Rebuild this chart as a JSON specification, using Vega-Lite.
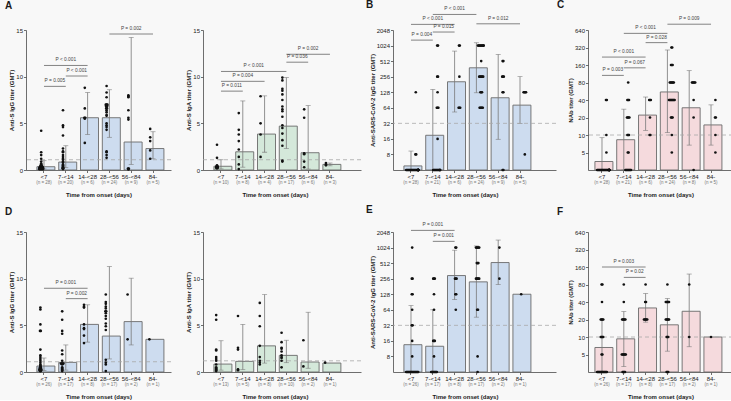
{
"$schema": "https://vega.github.io/schema/vega-lite/v6.json",
"background": "#f8f8f8",
"padding": {"left": 5, "top": 0, "right": 0, "bottom": 0},
"datasets": {
"bars": [
{"panel":"A1","grp":"<7","gmt":0.35,"lo":0.12,"hi":1.0,"nlab":"(n = 28)"},
{"panel":"A1","grp":"7-<14","gmt":0.85,"lo":0.25,"hi":2.6,"nlab":"(n = 20)"},
{"panel":"A1","grp":"14-<28","gmt":5.6,"lo":3.8,"hi":8.3,"nlab":"(n = 6)"},
{"panel":"A1","grp":"28-<56","gmt":5.6,"lo":3.5,"hi":8.6,"nlab":"(n = 24)"},
{"panel":"A1","grp":"56-<84","gmt":3.0,"lo":0.6,"hi":14.2,"nlab":"(n = 9)"},
{"panel":"A1","grp":"84-","gmt":2.3,"lo":1.2,"hi":4.1,"nlab":"(n = 5)"},
{"panel":"A2","grp":"<7","gmt":0.4,"lo":0.12,"hi":1.1,"nlab":"(n = 10)"},
{"panel":"A2","grp":"7-<14","gmt":1.95,"lo":0.3,"hi":7.4,"nlab":"(n = 8)"},
{"panel":"A2","grp":"14-<28","gmt":3.85,"lo":1.9,"hi":7.95,"nlab":"(n = 4)"},
{"panel":"A2","grp":"28-<56","gmt":4.7,"lo":2.3,"hi":9.9,"nlab":"(n = 17)"},
{"panel":"A2","grp":"56-<84","gmt":1.85,"lo":0.1,"hi":6.9,"nlab":"(n = 6)"},
{"panel":"A2","grp":"84-","gmt":0.6,"lo":0.45,"hi":0.75,"nlab":"(n = 3)"},
{"panel":"B","grp":"<7","gmt":4.8,"lo":4,"hi":9.3,"nlab":"(n = 28)"},
{"panel":"B","grp":"7-<14","gmt":18.8,"lo":4,"hi":145,"nlab":"(n = 21)"},
{"panel":"B","grp":"14-<28","gmt":204,"lo":53,"hi":800,"nlab":"(n = 6)"},
{"panel":"B","grp":"28-<56","gmt":380,"lo":125,"hi":1160,"nlab":"(n = 24)"},
{"panel":"B","grp":"56-<84","gmt":100,"lo":15.7,"hi":690,"nlab":"(n = 9)"},
{"panel":"B","grp":"84-","gmt":72,"lo":32,"hi":256,"nlab":"(n = 5)"},
{"panel":"C","grp":"<7","gmt":3.5,"lo":2.5,"hi":9,"nlab":"(n = 28)"},
{"panel":"C","grp":"7-<14","gmt":8.3,"lo":2.5,"hi":27.8,"nlab":"(n = 21)"},
{"panel":"C","grp":"14-<28","gmt":22,"lo":12,"hi":45,"nlab":"(n = 6)"},
{"panel":"C","grp":"28-<56","gmt":55,"lo":11,"hi":290,"nlab":"(n = 24)"},
{"panel":"C","grp":"56-<84","gmt":29.4,"lo":6.7,"hi":128,"nlab":"(n = 8)"},
{"panel":"C","grp":"84-","gmt":14.9,"lo":6.7,"hi":33,"nlab":"(n = 5)"},
{"panel":"D1","grp":"<7","gmt":0.64,"lo":0.15,"hi":1.5,"nlab":"(n = 26)"},
{"panel":"D1","grp":"7-<14","gmt":1.03,"lo":0.2,"hi":2.9,"nlab":"(n = 17)"},
{"panel":"D1","grp":"14-<28","gmt":5.1,"lo":3.2,"hi":7.2,"nlab":"(n = 8)"},
{"panel":"D1","grp":"28-<56","gmt":3.85,"lo":1.4,"hi":11.3,"nlab":"(n = 17)"},
{"panel":"D1","grp":"56-<84","gmt":5.4,"lo":2.9,"hi":10.05,"nlab":"(n = 2)"},
{"panel":"D1","grp":"84-","gmt":3.5,"lo":null,"hi":null,"nlab":"(n = 1)"},
{"panel":"D2","grp":"<7","gmt":0.85,"lo":0.2,"hi":3.35,"nlab":"(n = 13)"},
{"panel":"D2","grp":"7-<14","gmt":1.14,"lo":0.25,"hi":5.1,"nlab":"(n = 5)"},
{"panel":"D2","grp":"14-<28","gmt":2.8,"lo":0.96,"hi":8.3,"nlab":"(n = 8)"},
{"panel":"D2","grp":"28-<56","gmt":1.78,"lo":1.0,"hi":3.4,"nlab":"(n = 10)"},
{"panel":"D2","grp":"56-<84","gmt":1.07,"lo":0.4,"hi":6.4,"nlab":"(n = 2)"},
{"panel":"D2","grp":"84-","gmt":0.96,"lo":null,"hi":null,"nlab":"(n = 1)"},
{"panel":"E","grp":"<7","gmt":13.5,"lo":4,"hi":77,"nlab":"(n = 26)"},
{"panel":"E","grp":"7-<14","gmt":12.6,"lo":4,"hi":64,"nlab":"(n = 17)"},
{"panel":"E","grp":"14-<28","gmt":294,"lo":101,"hi":910,"nlab":"(n = 8)"},
{"panel":"E","grp":"28-<56","gmt":222,"lo":46,"hi":1100,"nlab":"(n = 17)"},
{"panel":"E","grp":"56-<84","gmt":525,"lo":197,"hi":1430,"nlab":"(n = 2)"},
{"panel":"E","grp":"84-","gmt":128,"lo":null,"hi":null,"nlab":"(n = 1)"},
{"panel":"F","grp":"<7","gmt":6.6,"lo":2.5,"hi":19.7,"nlab":"(n = 26)"},
{"panel":"F","grp":"7-<14","gmt":9.3,"lo":3.1,"hi":27.4,"nlab":"(n = 17)"},
{"panel":"F","grp":"14-<28","gmt":31.6,"lo":18,"hi":56,"nlab":"(n = 8)"},
{"panel":"F","grp":"28-<56","gmt":16.2,"lo":5.7,"hi":46,"nlab":"(n = 17)"},
{"panel":"F","grp":"56-<84","gmt":27.7,"lo":6.8,"hi":121,"nlab":"(n = 2)"},
{"panel":"F","grp":"84-","gmt":10,"lo":null,"hi":null,"nlab":"(n = 1)"}
],
"thr": [
{"panel":"A1","t":1.1},{"panel":"A2","t":1.1},{"panel":"B","t":32},{"panel":"C","t":10},
{"panel":"D1","t":1.1},{"panel":"D2","t":1.2},{"panel":"E","t":32},{"panel":"F","t":10}
],
"brk": [
{"panel":"A1","grp":"<7","grp2":"7-<14","lvl":8.96,"lab":"P = 0.005","mid":"<7","half":true},
{"panel":"A1","grp":"7-<14","grp2":"14-<28","lvl":10.07,"lab":"P < 0.001","mid":"7-<14","half":true},
{"panel":"A1","grp":"<7","grp2":"14-<28","lvl":11.2,"lab":"P < 0.001","mid":"7-<14","half":false},
{"panel":"A1","grp":"28-<56","grp2":"84-","lvl":14.57,"lab":"P = 0.002","mid":"56-<84","half":false},
{"panel":"A2","grp":"<7","grp2":"7-<14","lvl":8.45,"lab":"P = 0.011","mid":"<7","half":true},
{"panel":"A2","grp":"<7","grp2":"14-<28","lvl":9.5,"lab":"P = 0.004","mid":"7-<14","half":false},
{"panel":"A2","grp":"<7","grp2":"28-<56","lvl":10.56,"lab":"P < 0.001","mid":"7-<14","half":true},
{"panel":"A2","grp":"28-<56","grp2":"56-<84","lvl":11.55,"lab":"P = 0.036","mid":"28-<56","half":true},
{"panel":"A2","grp":"28-<56","grp2":"84-","lvl":12.4,"lab":"P = 0.002","mid":"56-<84","half":false},
{"panel":"B","grp":"<7","grp2":"7-<14","lvl":1305,"lab":"P = 0.004","mid":"<7","half":true},
{"panel":"B","grp":"7-<14","grp2":"14-<28","lvl":1870,"lab":"P = 0.015","mid":"7-<14","half":true},
{"panel":"B","grp":"<7","grp2":"14-<28","lvl":2630,"lab":"P < 0.001","mid":"7-<14","half":false},
{"panel":"B","grp":"7-<14","grp2":"28-<56","lvl":4096,"lab":"P < 0.001","mid":"14-<28","half":false},
{"panel":"B","grp":"28-<56","grp2":"84-","lvl":2700,"lab":"P = 0.012","mid":"56-<84","half":false},
{"panel":"C","grp":"<7","grp2":"7-<14","lvl":106,"lab":"P = 0.003","mid":"<7","half":true},
{"panel":"C","grp":"7-<14","grp2":"14-<28","lvl":143,"lab":"P = 0.067","mid":"7-<14","half":true},
{"panel":"C","grp":"<7","grp2":"14-<28","lvl":219,"lab":"P < 0.001","mid":"7-<14","half":false},
{"panel":"C","grp":"14-<28","grp2":"28-<56","lvl":388,"lab":"P = 0.028","mid":"14-<28","half":true},
{"panel":"C","grp":"7-<14","grp2":"28-<56","lvl":560,"lab":"P < 0.001","mid":"14-<28","half":false},
{"panel":"C","grp":"28-<56","grp2":"84-","lvl":805,"lab":"P = 0.009","mid":"56-<84","half":false},
{"panel":"D1","grp":"<7","grp2":"14-<28","lvl":8.97,"lab":"P = 0.001","mid":"7-<14","half":false},
{"panel":"D1","grp":"7-<14","grp2":"14-<28","lvl":7.86,"lab":"P = 0.002","mid":"7-<14","half":true},
{"panel":"E","grp":"<7","grp2":"14-<28","lvl":2200,"lab":"P = 0.001","mid":"7-<14","half":false},
{"panel":"E","grp":"7-<14","grp2":"14-<28","lvl":1350,"lab":"P = 0.001","mid":"7-<14","half":true},
{"panel":"F","grp":"<7","grp2":"14-<28","lvl":160,"lab":"P = 0.003","mid":"7-<14","half":false},
{"panel":"F","grp":"7-<14","grp2":"14-<28","lvl":106,"lab":"P = 0.02","mid":"7-<14","half":true}
],
"pts": [
{"panel":"A1","grp":"<7","v":4.2},{"panel":"A1","grp":"<7","v":1.9},{"panel":"A1","grp":"<7","v":1.6},{"panel":"A1","grp":"<7","v":1.2},{"panel":"A1","grp":"<7","v":0.9},{"panel":"A1","grp":"<7","v":0.7},{"panel":"A1","grp":"<7","v":0.6},{"panel":"A1","grp":"<7","v":0.5},{"panel":"A1","grp":"<7","v":0.5},{"panel":"A1","grp":"<7","v":0.4},{"panel":"A1","grp":"<7","v":0.4},{"panel":"A1","grp":"<7","v":0.4},{"panel":"A1","grp":"<7","v":0.3},{"panel":"A1","grp":"<7","v":0.3},{"panel":"A1","grp":"<7","v":0.3},{"panel":"A1","grp":"<7","v":0.3},{"panel":"A1","grp":"<7","v":0.3},{"panel":"A1","grp":"<7","v":0.2},{"panel":"A1","grp":"<7","v":0.2},{"panel":"A1","grp":"<7","v":0.2},{"panel":"A1","grp":"<7","v":0.2},{"panel":"A1","grp":"<7","v":0.2},{"panel":"A1","grp":"<7","v":0.1},{"panel":"A1","grp":"<7","v":0.1},{"panel":"A1","grp":"<7","v":0.1},{"panel":"A1","grp":"<7","v":0.1},{"panel":"A1","grp":"<7","v":0.1},{"panel":"A1","grp":"<7","v":0.1},
{"panel":"A1","grp":"7-<14","v":6.4},{"panel":"A1","grp":"7-<14","v":4.8},{"panel":"A1","grp":"7-<14","v":4.6},{"panel":"A1","grp":"7-<14","v":3.7},{"panel":"A1","grp":"7-<14","v":2.3},{"panel":"A1","grp":"7-<14","v":2.0},{"panel":"A1","grp":"7-<14","v":1.9},{"panel":"A1","grp":"7-<14","v":1.6},{"panel":"A1","grp":"7-<14","v":1.4},{"panel":"A1","grp":"7-<14","v":1.2},{"panel":"A1","grp":"7-<14","v":1.1},{"panel":"A1","grp":"7-<14","v":0.9},{"panel":"A1","grp":"7-<14","v":0.8},{"panel":"A1","grp":"7-<14","v":0.6},{"panel":"A1","grp":"7-<14","v":0.5},{"panel":"A1","grp":"7-<14","v":0.4},{"panel":"A1","grp":"7-<14","v":0.3},{"panel":"A1","grp":"7-<14","v":0.2},{"panel":"A1","grp":"7-<14","v":0.2},{"panel":"A1","grp":"7-<14","v":0.1},
{"panel":"A1","grp":"14-<28","v":8.8},{"panel":"A1","grp":"14-<28","v":6.6},{"panel":"A1","grp":"14-<28","v":5.6},{"panel":"A1","grp":"14-<28","v":5.6},{"panel":"A1","grp":"14-<28","v":5.5},{"panel":"A1","grp":"14-<28","v":2.9},
{"panel":"A1","grp":"28-<56","v":9.0},{"panel":"A1","grp":"28-<56","v":8.3},{"panel":"A1","grp":"28-<56","v":7.8},{"panel":"A1","grp":"28-<56","v":7.0},{"panel":"A1","grp":"28-<56","v":7.0},{"panel":"A1","grp":"28-<56","v":7.0},{"panel":"A1","grp":"28-<56","v":6.9},{"panel":"A1","grp":"28-<56","v":6.9},{"panel":"A1","grp":"28-<56","v":6.8},{"panel":"A1","grp":"28-<56","v":6.8},{"panel":"A1","grp":"28-<56","v":6.6},{"panel":"A1","grp":"28-<56","v":6.6},{"panel":"A1","grp":"28-<56","v":6.4},{"panel":"A1","grp":"28-<56","v":6.2},{"panel":"A1","grp":"28-<56","v":5.9},{"panel":"A1","grp":"28-<56","v":5.8},{"panel":"A1","grp":"28-<56","v":5.0},{"panel":"A1","grp":"28-<56","v":4.8},{"panel":"A1","grp":"28-<56","v":4.6},{"panel":"A1","grp":"28-<56","v":4.3},{"panel":"A1","grp":"28-<56","v":2.0},{"panel":"A1","grp":"28-<56","v":1.9},{"panel":"A1","grp":"28-<56","v":1.6},{"panel":"A1","grp":"28-<56","v":1.3},
{"panel":"A1","grp":"56-<84","v":8.0},{"panel":"A1","grp":"56-<84","v":7.9},{"panel":"A1","grp":"56-<84","v":7.8},{"panel":"A1","grp":"56-<84","v":6.4},{"panel":"A1","grp":"56-<84","v":5.6},{"panel":"A1","grp":"56-<84","v":5.4},{"panel":"A1","grp":"56-<84","v":0.15},{"panel":"A1","grp":"56-<84","v":0.15},{"panel":"A1","grp":"56-<84","v":0.05},
{"panel":"A1","grp":"84-","v":4.4},{"panel":"A1","grp":"84-","v":3.5},{"panel":"A1","grp":"84-","v":3.1},{"panel":"A1","grp":"84-","v":2.1},{"panel":"A1","grp":"84-","v":1.2},
{"panel":"A2","grp":"<7","v":2.7},{"panel":"A2","grp":"<7","v":1.3},{"panel":"A2","grp":"<7","v":0.5},{"panel":"A2","grp":"<7","v":0.4},{"panel":"A2","grp":"<7","v":0.4},{"panel":"A2","grp":"<7","v":0.3},{"panel":"A2","grp":"<7","v":0.3},{"panel":"A2","grp":"<7","v":0.3},{"panel":"A2","grp":"<7","v":0.2},{"panel":"A2","grp":"<7","v":0.2},
{"panel":"A2","grp":"7-<14","v":6.1},{"panel":"A2","grp":"7-<14","v":4.3},{"panel":"A2","grp":"7-<14","v":3.8},{"panel":"A2","grp":"7-<14","v":3.1},{"panel":"A2","grp":"7-<14","v":2.2},{"panel":"A2","grp":"7-<14","v":1.4},{"panel":"A2","grp":"7-<14","v":0.6},{"panel":"A2","grp":"7-<14","v":0.1},
{"panel":"A2","grp":"14-<28","v":7.9},{"panel":"A2","grp":"14-<28","v":5.0},{"panel":"A2","grp":"14-<28","v":3.8},{"panel":"A2","grp":"14-<28","v":1.4},
{"panel":"A2","grp":"28-<56","v":9.9},{"panel":"A2","grp":"28-<56","v":9.6},{"panel":"A2","grp":"28-<56","v":8.7},{"panel":"A2","grp":"28-<56","v":8.5},{"panel":"A2","grp":"28-<56","v":8.1},{"panel":"A2","grp":"28-<56","v":7.5},{"panel":"A2","grp":"28-<56","v":6.8},{"panel":"A2","grp":"28-<56","v":6.5},{"panel":"A2","grp":"28-<56","v":6.3},{"panel":"A2","grp":"28-<56","v":5.7},{"panel":"A2","grp":"28-<56","v":4.8},{"panel":"A2","grp":"28-<56","v":4.5},{"panel":"A2","grp":"28-<56","v":3.9},{"panel":"A2","grp":"28-<56","v":3.2},{"panel":"A2","grp":"28-<56","v":2.6},{"panel":"A2","grp":"28-<56","v":1.0},{"panel":"A2","grp":"28-<56","v":0.9},
{"panel":"A2","grp":"56-<84","v":6.5},{"panel":"A2","grp":"56-<84","v":5.6},{"panel":"A2","grp":"56-<84","v":1.8},{"panel":"A2","grp":"56-<84","v":1.7},{"panel":"A2","grp":"56-<84","v":0.9},{"panel":"A2","grp":"56-<84","v":0.3},
{"panel":"A2","grp":"84-","v":0.75},{"panel":"A2","grp":"84-","v":0.6},{"panel":"A2","grp":"84-","v":0.5},
{"panel":"B","grp":"<7","v":128},{"panel":"B","grp":"<7","v":8},{"panel":"B","grp":"<7","v":8},{"panel":"B","grp":"<7","v":4},{"panel":"B","grp":"<7","v":4},{"panel":"B","grp":"<7","v":4},{"panel":"B","grp":"<7","v":4},{"panel":"B","grp":"<7","v":4},{"panel":"B","grp":"<7","v":4},{"panel":"B","grp":"<7","v":4},{"panel":"B","grp":"<7","v":4},{"panel":"B","grp":"<7","v":4},{"panel":"B","grp":"<7","v":4},{"panel":"B","grp":"<7","v":4},{"panel":"B","grp":"<7","v":4},{"panel":"B","grp":"<7","v":4},{"panel":"B","grp":"<7","v":4},{"panel":"B","grp":"<7","v":4},{"panel":"B","grp":"<7","v":4},{"panel":"B","grp":"<7","v":4},{"panel":"B","grp":"<7","v":4},{"panel":"B","grp":"<7","v":4},{"panel":"B","grp":"<7","v":4},{"panel":"B","grp":"<7","v":4},{"panel":"B","grp":"<7","v":4},{"panel":"B","grp":"<7","v":4},{"panel":"B","grp":"<7","v":4},{"panel":"B","grp":"<7","v":4},
{"panel":"B","grp":"7-<14","v":1024},{"panel":"B","grp":"7-<14","v":1024},{"panel":"B","grp":"7-<14","v":256},{"panel":"B","grp":"7-<14","v":256},{"panel":"B","grp":"7-<14","v":128},{"panel":"B","grp":"7-<14","v":64},{"panel":"B","grp":"7-<14","v":64},{"panel":"B","grp":"7-<14","v":64},{"panel":"B","grp":"7-<14","v":16},{"panel":"B","grp":"7-<14","v":4},{"panel":"B","grp":"7-<14","v":4},{"panel":"B","grp":"7-<14","v":4},{"panel":"B","grp":"7-<14","v":4},{"panel":"B","grp":"7-<14","v":4},{"panel":"B","grp":"7-<14","v":4},{"panel":"B","grp":"7-<14","v":4},{"panel":"B","grp":"7-<14","v":4},{"panel":"B","grp":"7-<14","v":4},{"panel":"B","grp":"7-<14","v":4},{"panel":"B","grp":"7-<14","v":4},{"panel":"B","grp":"7-<14","v":4},
{"panel":"B","grp":"14-<28","v":1024},{"panel":"B","grp":"14-<28","v":1024},{"panel":"B","grp":"14-<28","v":256},{"panel":"B","grp":"14-<28","v":64},{"panel":"B","grp":"14-<28","v":64},{"panel":"B","grp":"14-<28","v":64},
{"panel":"B","grp":"28-<56","v":1024},{"panel":"B","grp":"28-<56","v":1024},{"panel":"B","grp":"28-<56","v":1024},{"panel":"B","grp":"28-<56","v":1024},{"panel":"B","grp":"28-<56","v":1024},{"panel":"B","grp":"28-<56","v":1024},{"panel":"B","grp":"28-<56","v":1024},{"panel":"B","grp":"28-<56","v":1024},{"panel":"B","grp":"28-<56","v":1024},{"panel":"B","grp":"28-<56","v":512},{"panel":"B","grp":"28-<56","v":256},{"panel":"B","grp":"28-<56","v":256},{"panel":"B","grp":"28-<56","v":256},{"panel":"B","grp":"28-<56","v":256},{"panel":"B","grp":"28-<56","v":256},{"panel":"B","grp":"28-<56","v":256},{"panel":"B","grp":"28-<56","v":128},{"panel":"B","grp":"28-<56","v":128},{"panel":"B","grp":"28-<56","v":128},{"panel":"B","grp":"28-<56","v":64},{"panel":"B","grp":"28-<56","v":64},{"panel":"B","grp":"28-<56","v":64},{"panel":"B","grp":"28-<56","v":64},{"panel":"B","grp":"28-<56","v":64},
{"panel":"B","grp":"56-<84","v":512},{"panel":"B","grp":"56-<84","v":512},{"panel":"B","grp":"56-<84","v":256},{"panel":"B","grp":"56-<84","v":256},{"panel":"B","grp":"56-<84","v":256},{"panel":"B","grp":"56-<84","v":128},{"panel":"B","grp":"56-<84","v":128},{"panel":"B","grp":"56-<84","v":4},{"panel":"B","grp":"56-<84","v":4},
{"panel":"B","grp":"84-","v":128},{"panel":"B","grp":"84-","v":128},{"panel":"B","grp":"84-","v":128},{"panel":"B","grp":"84-","v":128},{"panel":"B","grp":"84-","v":8},
{"panel":"C","grp":"<7","v":40},{"panel":"C","grp":"<7","v":40},{"panel":"C","grp":"<7","v":10},{"panel":"C","grp":"<7","v":5},{"panel":"C","grp":"<7","v":2.5},{"panel":"C","grp":"<7","v":2.5},{"panel":"C","grp":"<7","v":2.5},{"panel":"C","grp":"<7","v":2.5},{"panel":"C","grp":"<7","v":2.5},{"panel":"C","grp":"<7","v":2.5},{"panel":"C","grp":"<7","v":2.5},{"panel":"C","grp":"<7","v":2.5},{"panel":"C","grp":"<7","v":2.5},{"panel":"C","grp":"<7","v":2.5},{"panel":"C","grp":"<7","v":2.5},{"panel":"C","grp":"<7","v":2.5},{"panel":"C","grp":"<7","v":2.5},{"panel":"C","grp":"<7","v":2.5},{"panel":"C","grp":"<7","v":2.5},{"panel":"C","grp":"<7","v":2.5},{"panel":"C","grp":"<7","v":2.5},{"panel":"C","grp":"<7","v":2.5},{"panel":"C","grp":"<7","v":2.5},{"panel":"C","grp":"<7","v":2.5},{"panel":"C","grp":"<7","v":2.5},{"panel":"C","grp":"<7","v":2.5},{"panel":"C","grp":"<7","v":2.5},{"panel":"C","grp":"<7","v":2.5},
{"panel":"C","grp":"7-<14","v":80},{"panel":"C","grp":"7-<14","v":40},{"panel":"C","grp":"7-<14","v":40},{"panel":"C","grp":"7-<14","v":40},{"panel":"C","grp":"7-<14","v":20},{"panel":"C","grp":"7-<14","v":20},{"panel":"C","grp":"7-<14","v":20},{"panel":"C","grp":"7-<14","v":20},{"panel":"C","grp":"7-<14","v":10},{"panel":"C","grp":"7-<14","v":10},{"panel":"C","grp":"7-<14","v":10},{"panel":"C","grp":"7-<14","v":5},{"panel":"C","grp":"7-<14","v":5},{"panel":"C","grp":"7-<14","v":2.5},{"panel":"C","grp":"7-<14","v":2.5},{"panel":"C","grp":"7-<14","v":2.5},{"panel":"C","grp":"7-<14","v":2.5},{"panel":"C","grp":"7-<14","v":2.5},{"panel":"C","grp":"7-<14","v":2.5},{"panel":"C","grp":"7-<14","v":2.5},{"panel":"C","grp":"7-<14","v":2.5},
{"panel":"C","grp":"14-<28","v":40},{"panel":"C","grp":"14-<28","v":40},{"panel":"C","grp":"14-<28","v":40},{"panel":"C","grp":"14-<28","v":20},{"panel":"C","grp":"14-<28","v":10},{"panel":"C","grp":"14-<28","v":10},
{"panel":"C","grp":"28-<56","v":320},{"panel":"C","grp":"28-<56","v":320},{"panel":"C","grp":"28-<56","v":160},{"panel":"C","grp":"28-<56","v":160},{"panel":"C","grp":"28-<56","v":160},{"panel":"C","grp":"28-<56","v":80},{"panel":"C","grp":"28-<56","v":80},{"panel":"C","grp":"28-<56","v":80},{"panel":"C","grp":"28-<56","v":80},{"panel":"C","grp":"28-<56","v":80},{"panel":"C","grp":"28-<56","v":80},{"panel":"C","grp":"28-<56","v":40},{"panel":"C","grp":"28-<56","v":40},{"panel":"C","grp":"28-<56","v":40},{"panel":"C","grp":"28-<56","v":40},{"panel":"C","grp":"28-<56","v":40},{"panel":"C","grp":"28-<56","v":40},{"panel":"C","grp":"28-<56","v":40},{"panel":"C","grp":"28-<56","v":40},{"panel":"C","grp":"28-<56","v":20},{"panel":"C","grp":"28-<56","v":20},{"panel":"C","grp":"28-<56","v":20},{"panel":"C","grp":"28-<56","v":10},{"panel":"C","grp":"28-<56","v":5},
{"panel":"C","grp":"56-<84","v":80},{"panel":"C","grp":"56-<84","v":80},{"panel":"C","grp":"56-<84","v":80},{"panel":"C","grp":"56-<84","v":80},{"panel":"C","grp":"56-<84","v":80},{"panel":"C","grp":"56-<84","v":40},{"panel":"C","grp":"56-<84","v":20},{"panel":"C","grp":"56-<84","v":2.5},
{"panel":"C","grp":"84-","v":40},{"panel":"C","grp":"84-","v":20},{"panel":"C","grp":"84-","v":20},{"panel":"C","grp":"84-","v":10},{"panel":"C","grp":"84-","v":5},
{"panel":"D1","grp":"<7","v":6.9},{"panel":"D1","grp":"<7","v":6.7},{"panel":"D1","grp":"<7","v":5.1},{"panel":"D1","grp":"<7","v":4.4},{"panel":"D1","grp":"<7","v":4.4},{"panel":"D1","grp":"<7","v":2.4},{"panel":"D1","grp":"<7","v":1.8},{"panel":"D1","grp":"<7","v":1.6},{"panel":"D1","grp":"<7","v":1.4},{"panel":"D1","grp":"<7","v":1.2},{"panel":"D1","grp":"<7","v":1.0},{"panel":"D1","grp":"<7","v":0.8},{"panel":"D1","grp":"<7","v":0.7},{"panel":"D1","grp":"<7","v":0.6},{"panel":"D1","grp":"<7","v":0.5},{"panel":"D1","grp":"<7","v":0.5},{"panel":"D1","grp":"<7","v":0.4},{"panel":"D1","grp":"<7","v":0.4},{"panel":"D1","grp":"<7","v":0.3},{"panel":"D1","grp":"<7","v":0.3},{"panel":"D1","grp":"<7","v":0.3},{"panel":"D1","grp":"<7","v":0.2},{"panel":"D1","grp":"<7","v":0.2},{"panel":"D1","grp":"<7","v":0.2},{"panel":"D1","grp":"<7","v":0.1},{"panel":"D1","grp":"<7","v":0.1},
{"panel":"D1","grp":"7-<14","v":6.5},{"panel":"D1","grp":"7-<14","v":5.6},{"panel":"D1","grp":"7-<14","v":4.4},{"panel":"D1","grp":"7-<14","v":4.1},{"panel":"D1","grp":"7-<14","v":2.3},{"panel":"D1","grp":"7-<14","v":1.9},{"panel":"D1","grp":"7-<14","v":1.2},{"panel":"D1","grp":"7-<14","v":0.9},{"panel":"D1","grp":"7-<14","v":0.9},{"panel":"D1","grp":"7-<14","v":0.9},{"panel":"D1","grp":"7-<14","v":0.9},{"panel":"D1","grp":"7-<14","v":0.8},{"panel":"D1","grp":"7-<14","v":0.5},{"panel":"D1","grp":"7-<14","v":0.4},{"panel":"D1","grp":"7-<14","v":0.3},{"panel":"D1","grp":"7-<14","v":0.2},{"panel":"D1","grp":"7-<14","v":0.1},
{"panel":"D1","grp":"14-<28","v":7.2},{"panel":"D1","grp":"14-<28","v":7.0},{"panel":"D1","grp":"14-<28","v":6.9},{"panel":"D1","grp":"14-<28","v":5.1},{"panel":"D1","grp":"14-<28","v":4.7},{"panel":"D1","grp":"14-<28","v":4.6},{"panel":"D1","grp":"14-<28","v":3.9},{"panel":"D1","grp":"14-<28","v":3.1},
{"panel":"D1","grp":"28-<56","v":8.3},{"panel":"D1","grp":"28-<56","v":7.5},{"panel":"D1","grp":"28-<56","v":7.3},{"panel":"D1","grp":"28-<56","v":7.0},{"panel":"D1","grp":"28-<56","v":6.8},{"panel":"D1","grp":"28-<56","v":6.5},{"panel":"D1","grp":"28-<56","v":6.5},{"panel":"D1","grp":"28-<56","v":6.3},{"panel":"D1","grp":"28-<56","v":6.0},{"panel":"D1","grp":"28-<56","v":5.7},{"panel":"D1","grp":"28-<56","v":5.2},{"panel":"D1","grp":"28-<56","v":4.9},{"panel":"D1","grp":"28-<56","v":4.5},{"panel":"D1","grp":"28-<56","v":1.3},{"panel":"D1","grp":"28-<56","v":1.0},{"panel":"D1","grp":"28-<56","v":0.8},{"panel":"D1","grp":"28-<56","v":0.1},
{"panel":"D1","grp":"56-<84","v":8.3},{"panel":"D1","grp":"56-<84","v":3.5},
{"panel":"D1","grp":"84-","v":3.5},
{"panel":"D2","grp":"<7","v":6.1},{"panel":"D2","grp":"<7","v":5.6},{"panel":"D2","grp":"<7","v":2.4},{"panel":"D2","grp":"<7","v":2.3},{"panel":"D2","grp":"<7","v":1.6},{"panel":"D2","grp":"<7","v":1.4},{"panel":"D2","grp":"<7","v":1.2},{"panel":"D2","grp":"<7","v":0.8},{"panel":"D2","grp":"<7","v":0.5},{"panel":"D2","grp":"<7","v":0.4},{"panel":"D2","grp":"<7","v":0.3},{"panel":"D2","grp":"<7","v":0.2},{"panel":"D2","grp":"<7","v":0.1},
{"panel":"D2","grp":"7-<14","v":6.0},{"panel":"D2","grp":"7-<14","v":2.6},{"panel":"D2","grp":"7-<14","v":2.4},{"panel":"D2","grp":"7-<14","v":0.3},{"panel":"D2","grp":"7-<14","v":0.2},
{"panel":"D2","grp":"14-<28","v":7.4},{"panel":"D2","grp":"14-<28","v":6.0},{"panel":"D2","grp":"14-<28","v":4.9},{"panel":"D2","grp":"14-<28","v":2.8},{"panel":"D2","grp":"14-<28","v":1.6},{"panel":"D2","grp":"14-<28","v":1.2},{"panel":"D2","grp":"14-<28","v":1.0},{"panel":"D2","grp":"14-<28","v":0.8},
{"panel":"D2","grp":"28-<56","v":4.2},{"panel":"D2","grp":"28-<56","v":3.2},{"panel":"D2","grp":"28-<56","v":2.6},{"panel":"D2","grp":"28-<56","v":2.5},{"panel":"D2","grp":"28-<56","v":2.2},{"panel":"D2","grp":"28-<56","v":1.8},{"panel":"D2","grp":"28-<56","v":1.6},{"panel":"D2","grp":"28-<56","v":1.5},{"panel":"D2","grp":"28-<56","v":1.2},{"panel":"D2","grp":"28-<56","v":0.5},
{"panel":"D2","grp":"56-<84","v":3.4},{"panel":"D2","grp":"56-<84","v":0.6},
{"panel":"D2","grp":"84-","v":1.0},
{"panel":"E","grp":"<7","v":1024},{"panel":"E","grp":"<7","v":256},{"panel":"E","grp":"<7","v":256},{"panel":"E","grp":"<7","v":128},{"panel":"E","grp":"<7","v":128},{"panel":"E","grp":"<7","v":64},{"panel":"E","grp":"<7","v":32},{"panel":"E","grp":"<7","v":32},{"panel":"E","grp":"<7","v":16},{"panel":"E","grp":"<7","v":8},{"panel":"E","grp":"<7","v":4},{"panel":"E","grp":"<7","v":4},{"panel":"E","grp":"<7","v":4},{"panel":"E","grp":"<7","v":4},{"panel":"E","grp":"<7","v":4},{"panel":"E","grp":"<7","v":4},{"panel":"E","grp":"<7","v":4},{"panel":"E","grp":"<7","v":4},{"panel":"E","grp":"<7","v":4},{"panel":"E","grp":"<7","v":4},{"panel":"E","grp":"<7","v":4},{"panel":"E","grp":"<7","v":4},{"panel":"E","grp":"<7","v":4},{"panel":"E","grp":"<7","v":4},{"panel":"E","grp":"<7","v":4},{"panel":"E","grp":"<7","v":4},
{"panel":"E","grp":"7-<14","v":256},{"panel":"E","grp":"7-<14","v":256},{"panel":"E","grp":"7-<14","v":256},{"panel":"E","grp":"7-<14","v":128},{"panel":"E","grp":"7-<14","v":64},{"panel":"E","grp":"7-<14","v":16},{"panel":"E","grp":"7-<14","v":16},{"panel":"E","grp":"7-<14","v":16},{"panel":"E","grp":"7-<14","v":8},{"panel":"E","grp":"7-<14","v":4},{"panel":"E","grp":"7-<14","v":4},{"panel":"E","grp":"7-<14","v":4},{"panel":"E","grp":"7-<14","v":4},{"panel":"E","grp":"7-<14","v":4},{"panel":"E","grp":"7-<14","v":4},{"panel":"E","grp":"7-<14","v":4},{"panel":"E","grp":"7-<14","v":4},
{"panel":"E","grp":"14-<28","v":1024},{"panel":"E","grp":"14-<28","v":1024},{"panel":"E","grp":"14-<28","v":256},{"panel":"E","grp":"14-<28","v":256},{"panel":"E","grp":"14-<28","v":256},{"panel":"E","grp":"14-<28","v":128},{"panel":"E","grp":"14-<28","v":128},{"panel":"E","grp":"14-<28","v":64},
{"panel":"E","grp":"28-<56","v":1024},{"panel":"E","grp":"28-<56","v":1024},{"panel":"E","grp":"28-<56","v":1024},{"panel":"E","grp":"28-<56","v":1024},{"panel":"E","grp":"28-<56","v":1024},{"panel":"E","grp":"28-<56","v":512},{"panel":"E","grp":"28-<56","v":512},{"panel":"E","grp":"28-<56","v":512},{"panel":"E","grp":"28-<56","v":256},{"panel":"E","grp":"28-<56","v":256},{"panel":"E","grp":"28-<56","v":256},{"panel":"E","grp":"28-<56","v":256},{"panel":"E","grp":"28-<56","v":256},{"panel":"E","grp":"28-<56","v":64},{"panel":"E","grp":"28-<56","v":64},{"panel":"E","grp":"28-<56","v":8},{"panel":"E","grp":"28-<56","v":4},
{"panel":"E","grp":"56-<84","v":1024},{"panel":"E","grp":"56-<84","v":256},
{"panel":"E","grp":"84-","v":128},
{"panel":"F","grp":"<7","v":80},{"panel":"F","grp":"<7","v":80},{"panel":"F","grp":"<7","v":40},{"panel":"F","grp":"<7","v":20},{"panel":"F","grp":"<7","v":20},{"panel":"F","grp":"<7","v":20},{"panel":"F","grp":"<7","v":20},{"panel":"F","grp":"<7","v":10},{"panel":"F","grp":"<7","v":10},{"panel":"F","grp":"<7","v":10},{"panel":"F","grp":"<7","v":10},{"panel":"F","grp":"<7","v":5},{"panel":"F","grp":"<7","v":5},{"panel":"F","grp":"<7","v":2.5},{"panel":"F","grp":"<7","v":2.5},{"panel":"F","grp":"<7","v":2.5},{"panel":"F","grp":"<7","v":2.5},{"panel":"F","grp":"<7","v":2.5},{"panel":"F","grp":"<7","v":2.5},{"panel":"F","grp":"<7","v":2.5},{"panel":"F","grp":"<7","v":2.5},{"panel":"F","grp":"<7","v":2.5},{"panel":"F","grp":"<7","v":2.5},{"panel":"F","grp":"<7","v":2.5},{"panel":"F","grp":"<7","v":2.5},{"panel":"F","grp":"<7","v":2.5},
{"panel":"F","grp":"7-<14","v":80},{"panel":"F","grp":"7-<14","v":40},{"panel":"F","grp":"7-<14","v":20},{"panel":"F","grp":"7-<14","v":20},{"panel":"F","grp":"7-<14","v":20},{"panel":"F","grp":"7-<14","v":20},{"panel":"F","grp":"7-<14","v":20},{"panel":"F","grp":"7-<14","v":5},{"panel":"F","grp":"7-<14","v":5},{"panel":"F","grp":"7-<14","v":5},{"panel":"F","grp":"7-<14","v":5},{"panel":"F","grp":"7-<14","v":5},{"panel":"F","grp":"7-<14","v":5},{"panel":"F","grp":"7-<14","v":2.5},{"panel":"F","grp":"7-<14","v":2.5},{"panel":"F","grp":"7-<14","v":2.5},{"panel":"F","grp":"7-<14","v":2.5},
{"panel":"F","grp":"14-<28","v":80},{"panel":"F","grp":"14-<28","v":40},{"panel":"F","grp":"14-<28","v":40},{"panel":"F","grp":"14-<28","v":20},{"panel":"F","grp":"14-<28","v":20},{"panel":"F","grp":"14-<28","v":20},{"panel":"F","grp":"14-<28","v":20},{"panel":"F","grp":"14-<28","v":20},
{"panel":"F","grp":"28-<56","v":80},{"panel":"F","grp":"28-<56","v":40},{"panel":"F","grp":"28-<56","v":40},{"panel":"F","grp":"28-<56","v":40},{"panel":"F","grp":"28-<56","v":40},{"panel":"F","grp":"28-<56","v":40},{"panel":"F","grp":"28-<56","v":20},{"panel":"F","grp":"28-<56","v":20},{"panel":"F","grp":"28-<56","v":20},{"panel":"F","grp":"28-<56","v":20},{"panel":"F","grp":"28-<56","v":20},{"panel":"F","grp":"28-<56","v":10},{"panel":"F","grp":"28-<56","v":10},{"panel":"F","grp":"28-<56","v":10},{"panel":"F","grp":"28-<56","v":2.5},{"panel":"F","grp":"28-<56","v":2.5},{"panel":"F","grp":"28-<56","v":2.5},
{"panel":"F","grp":"56-<84","v":80},{"panel":"F","grp":"56-<84","v":10},
{"panel":"F","grp":"84-","v":10}
]
},
"columns": 4,
"spacing": {"row": 62, "column": 32},
"bounds": "flush",
"align": "each",
"concat": [
  {"width": 145, "height": 140, "title": {"text": "A", "dx": -21, "offset": 15},
   "layer": [
    {"data": {"name": "bars"}, "transform": [{"filter": {"field": "panel", "equal": "A1"}}], "mark": {"type": "bar", "fill": "#cddcef", "stroke": "#6a6a6a", "strokeWidth": 0.9},
     "encoding": {"x": {"field": "grp", "type": "nominal", "scale": {"domain": ["<7","7-<14","14-<28","28-<56","56-<84","84-"], "paddingInner": 0.35, "paddingOuter": 0.5}, "axis": {"title": "Time from onset (days)"}},
      "y": {"field": "gmt", "type": "quantitative", "scale": {"domain": [0, 15], "nice": false}, "axis": {"title": "Anti-S IgG titer (GMT)", "values": [0, 5, 10, 15]}}}},
    {"data": {"name": "bars"}, "transform": [{"filter": {"field": "panel", "equal": "A1"}}], "mark": {"type": "rule", "color": "#777777", "strokeWidth": 0.8},
     "encoding": {"x": {"field": "grp", "type": "nominal", "scale": {"domain": ["<7","7-<14","14-<28","28-<56","56-<84","84-"], "paddingInner": 0.35, "paddingOuter": 0.5}, "axis": {"title": "Time from onset (days)"}}, "y": {"field": "lo", "type": "quantitative", "scale": {"domain": [0, 15], "nice": false}}, "y2": {"field": "hi"}}},
    {"data": {"name": "bars"}, "transform": [{"filter": {"field": "panel", "equal": "A1"}}], "mark": {"type": "tick", "color": "#777777", "size": 5, "thickness": 0.8},
     "encoding": {"x": {"field": "grp", "type": "nominal", "scale": {"domain": ["<7","7-<14","14-<28","28-<56","56-<84","84-"], "paddingInner": 0.35, "paddingOuter": 0.5}, "axis": {"title": "Time from onset (days)"}}, "y": {"field": "hi", "type": "quantitative", "scale": {"domain": [0, 15], "nice": false}}}},
    {"data": {"name": "bars"}, "transform": [{"filter": {"field": "panel", "equal": "A1"}}], "mark": {"type": "tick", "color": "#777777", "size": 5, "thickness": 0.8},
     "encoding": {"x": {"field": "grp", "type": "nominal", "scale": {"domain": ["<7","7-<14","14-<28","28-<56","56-<84","84-"], "paddingInner": 0.35, "paddingOuter": 0.5}, "axis": {"title": "Time from onset (days)"}}, "y": {"field": "lo", "type": "quantitative", "scale": {"domain": [0, 15], "nice": false}}}},
    {"data": {"name": "thr"}, "transform": [{"filter": {"field": "panel", "equal": "A1"}}], "mark": {"type": "rule", "color": "#a8a8a8", "strokeDash": [4, 3], "strokeWidth": 0.8},
     "encoding": {"y": {"field": "t", "type": "quantitative", "scale": {"domain": [0, 15], "nice": false}}}},
    {"data": {"name": "pts"}, "transform": [{"filter": {"field": "panel", "equal": "A1"}}, {"window": [{"op": "count", "as": "one"}], "frame": [0, 0], "ignorePeers": true}, {"stack": "one", "groupby": ["grp", "v"], "offset": "center", "as": ["s0", "s1"]}],
     "mark": {"type": "circle", "color": "#111111", "size": 7, "opacity": 1},
     "encoding": {"x": {"field": "grp", "type": "nominal", "scale": {"domain": ["<7","7-<14","14-<28","28-<56","56-<84","84-"], "paddingInner": 0.35, "paddingOuter": 0.5}, "axis": {"title": "Time from onset (days)"}}, "xOffset": {"field": "s0", "type": "quantitative", "scale": {"domain": [-0.5, 5.5], "range": [-0.12, 14.28], "clamp": true}}, "y": {"field": "v", "type": "quantitative", "scale": {"domain": [0, 15], "nice": false}}}},
    {"data": {"name": "brk"}, "transform": [{"filter": {"field": "panel", "equal": "A1"}}], "mark": {"type": "rule", "color": "#666666", "strokeWidth": 0.8},
     "encoding": {"x": {"field": "grp", "type": "nominal", "scale": {"domain": ["<7","7-<14","14-<28","28-<56","56-<84","84-"], "paddingInner": 0.35, "paddingOuter": 0.5}, "axis": {"title": "Time from onset (days)"}}, "x2": {"field": "grp2"}, "y": {"field": "lvl", "type": "quantitative", "scale": {"domain": [0, 15], "nice": false}}}},
    {"data": {"name": "brk"}, "transform": [{"filter": {"field": "panel", "equal": "A1"}}, {"filter": "!datum.half"}], "mark": {"type": "text", "fontSize": 4.8, "color": "#444444", "baseline": "bottom", "dy": -3},
     "encoding": {"x": {"field": "mid", "type": "nominal", "scale": {"domain": ["<7","7-<14","14-<28","28-<56","56-<84","84-"], "paddingInner": 0.35, "paddingOuter": 0.5}, "axis": {"title": "Time from onset (days)"}}, "y": {"field": "lvl", "type": "quantitative", "scale": {"domain": [0, 15], "nice": false}}, "text": {"field": "lab"}}},
    {"data": {"name": "brk"}, "transform": [{"filter": {"field": "panel", "equal": "A1"}}, {"filter": "datum.half"}], "mark": {"type": "text", "fontSize": 4.8, "color": "#444444", "baseline": "bottom", "dy": -3, "dx": 10.9},
     "encoding": {"x": {"field": "mid", "type": "nominal", "scale": {"domain": ["<7","7-<14","14-<28","28-<56","56-<84","84-"], "paddingInner": 0.35, "paddingOuter": 0.5}, "axis": {"title": "Time from onset (days)"}}, "y": {"field": "lvl", "type": "quantitative", "scale": {"domain": [0, 15], "nice": false}}, "text": {"field": "lab"}}},
    {"data": {"name": "bars"}, "transform": [{"filter": {"field": "panel", "equal": "A1"}}], "mark": {"type": "text", "fontSize": 4.5, "color": "#777777", "baseline": "top", "dy": 10},
     "encoding": {"x": {"field": "grp", "type": "nominal", "scale": {"domain": ["<7","7-<14","14-<28","28-<56","56-<84","84-"], "paddingInner": 0.35, "paddingOuter": 0.5}, "axis": {"title": "Time from onset (days)"}}, "y": {"datum": 0, "type": "quantitative", "scale": {"domain": [0, 15], "nice": false}}, "text": {"field": "nlab"}}}
   ]},
  {"width": 158, "height": 140,
   "layer": [
    {"data": {"name": "bars"}, "transform": [{"filter": {"field": "panel", "equal": "A2"}}], "mark": {"type": "bar", "fill": "#d4e8da", "stroke": "#6a6a6a", "strokeWidth": 0.9},
     "encoding": {"x": {"field": "grp", "type": "nominal", "scale": {"domain": ["<7","7-<14","14-<28","28-<56","56-<84","84-"], "paddingInner": 0.35, "paddingOuter": 0.8, "align": 0.313}, "axis": {"title": "Time from onset (days)", "titleX": 72}},
      "y": {"field": "gmt", "type": "quantitative", "scale": {"domain": [0, 15], "nice": false}, "axis": {"title": "Anti-S IgA titer (GMT)", "values": [0, 5, 10, 15]}}}},
    {"data": {"name": "bars"}, "transform": [{"filter": {"field": "panel", "equal": "A2"}}], "mark": {"type": "rule", "color": "#777777", "strokeWidth": 0.8},
     "encoding": {"x": {"field": "grp", "type": "nominal", "scale": {"domain": ["<7","7-<14","14-<28","28-<56","56-<84","84-"], "paddingInner": 0.35, "paddingOuter": 0.8, "align": 0.313}, "axis": {"title": "Time from onset (days)", "titleX": 72}}, "y": {"field": "lo", "type": "quantitative", "scale": {"domain": [0, 15], "nice": false}}, "y2": {"field": "hi"}}},
    {"data": {"name": "bars"}, "transform": [{"filter": {"field": "panel", "equal": "A2"}}], "mark": {"type": "tick", "color": "#777777", "size": 5, "thickness": 0.8},
     "encoding": {"x": {"field": "grp", "type": "nominal", "scale": {"domain": ["<7","7-<14","14-<28","28-<56","56-<84","84-"], "paddingInner": 0.35, "paddingOuter": 0.8, "align": 0.313}, "axis": {"title": "Time from onset (days)", "titleX": 72}}, "y": {"field": "hi", "type": "quantitative", "scale": {"domain": [0, 15], "nice": false}}}},
    {"data": {"name": "bars"}, "transform": [{"filter": {"field": "panel", "equal": "A2"}}], "mark": {"type": "tick", "color": "#777777", "size": 5, "thickness": 0.8},
     "encoding": {"x": {"field": "grp", "type": "nominal", "scale": {"domain": ["<7","7-<14","14-<28","28-<56","56-<84","84-"], "paddingInner": 0.35, "paddingOuter": 0.8, "align": 0.313}, "axis": {"title": "Time from onset (days)", "titleX": 72}}, "y": {"field": "lo", "type": "quantitative", "scale": {"domain": [0, 15], "nice": false}}}},
    {"data": {"name": "thr"}, "transform": [{"filter": {"field": "panel", "equal": "A2"}}], "mark": {"type": "rule", "color": "#a8a8a8", "strokeDash": [4, 3], "strokeWidth": 0.8},
     "encoding": {"y": {"field": "t", "type": "quantitative", "scale": {"domain": [0, 15], "nice": false}}}},
    {"data": {"name": "pts"}, "transform": [{"filter": {"field": "panel", "equal": "A2"}}, {"window": [{"op": "count", "as": "one"}], "frame": [0, 0], "ignorePeers": true}, {"stack": "one", "groupby": ["grp", "v"], "offset": "center", "as": ["s0", "s1"]}],
     "mark": {"type": "circle", "color": "#111111", "size": 7, "opacity": 1},
     "encoding": {"x": {"field": "grp", "type": "nominal", "scale": {"domain": ["<7","7-<14","14-<28","28-<56","56-<84","84-"], "paddingInner": 0.35, "paddingOuter": 0.8, "align": 0.313}, "axis": {"title": "Time from onset (days)", "titleX": 72}}, "xOffset": {"field": "s0", "type": "quantitative", "scale": {"domain": [-2, 4], "range": [-0.12, 14.28], "clamp": true}}, "y": {"field": "v", "type": "quantitative", "scale": {"domain": [0, 15], "nice": false}}}},
    {"data": {"name": "brk"}, "transform": [{"filter": {"field": "panel", "equal": "A2"}}], "mark": {"type": "rule", "color": "#666666", "strokeWidth": 0.8},
     "encoding": {"x": {"field": "grp", "type": "nominal", "scale": {"domain": ["<7","7-<14","14-<28","28-<56","56-<84","84-"], "paddingInner": 0.35, "paddingOuter": 0.8, "align": 0.313}, "axis": {"title": "Time from onset (days)", "titleX": 72}}, "x2": {"field": "grp2"}, "y": {"field": "lvl", "type": "quantitative", "scale": {"domain": [0, 15], "nice": false}}}},
    {"data": {"name": "brk"}, "transform": [{"filter": {"field": "panel", "equal": "A2"}}, {"filter": "!datum.half"}], "mark": {"type": "text", "fontSize": 4.8, "color": "#444444", "baseline": "bottom", "dy": -3},
     "encoding": {"x": {"field": "mid", "type": "nominal", "scale": {"domain": ["<7","7-<14","14-<28","28-<56","56-<84","84-"], "paddingInner": 0.35, "paddingOuter": 0.8, "align": 0.313}, "axis": {"title": "Time from onset (days)", "titleX": 72}}, "y": {"field": "lvl", "type": "quantitative", "scale": {"domain": [0, 15], "nice": false}}, "text": {"field": "lab"}}},
    {"data": {"name": "brk"}, "transform": [{"filter": {"field": "panel", "equal": "A2"}}, {"filter": "datum.half"}], "mark": {"type": "text", "fontSize": 4.8, "color": "#444444", "baseline": "bottom", "dy": -3, "dx": 10.9},
     "encoding": {"x": {"field": "mid", "type": "nominal", "scale": {"domain": ["<7","7-<14","14-<28","28-<56","56-<84","84-"], "paddingInner": 0.35, "paddingOuter": 0.8, "align": 0.313}, "axis": {"title": "Time from onset (days)", "titleX": 72}}, "y": {"field": "lvl", "type": "quantitative", "scale": {"domain": [0, 15], "nice": false}}, "text": {"field": "lab"}}},
    {"data": {"name": "bars"}, "transform": [{"filter": {"field": "panel", "equal": "A2"}}], "mark": {"type": "text", "fontSize": 4.5, "color": "#777777", "baseline": "top", "dy": 10},
     "encoding": {"x": {"field": "grp", "type": "nominal", "scale": {"domain": ["<7","7-<14","14-<28","28-<56","56-<84","84-"], "paddingInner": 0.35, "paddingOuter": 0.8, "align": 0.313}, "axis": {"title": "Time from onset (days)", "titleX": 72}}, "y": {"datum": 0, "type": "quantitative", "scale": {"domain": [0, 15], "nice": false}}, "text": {"field": "nlab"}}}
   ]},
  {"width": 163, "height": 140, "title": {"text": "B", "dx": -27, "offset": -4},
   "layer": [
    {"data": {"name": "bars"}, "transform": [{"filter": {"field": "panel", "equal": "B"}}], "mark": {"type": "bar", "fill": "#cddcef", "stroke": "#6a6a6a", "strokeWidth": 0.9},
     "encoding": {"x": {"field": "grp", "type": "nominal", "scale": {"domain": ["<7","7-<14","14-<28","28-<56","56-<84","84-"], "paddingInner": 0.35, "paddingOuter": 0.913, "align": 0.274}, "axis": {"title": "Time from onset (days)", "titleX": 72}},
      "y": {"field": "gmt", "type": "quantitative", "scale": {"type": "log", "base": 2, "domain": [4, 2048], "nice": false}, "axis": {"title": "Anti-SARS-CoV-2 IgG titer (GMT)", "values": [8, 16, 32, 64, 128, 256, 512, 1024, 2048], "format": "d"}}, "y2": {"datum": 4}}},
    {"data": {"name": "bars"}, "transform": [{"filter": {"field": "panel", "equal": "B"}}], "mark": {"type": "rule", "color": "#777777", "strokeWidth": 0.8},
     "encoding": {"x": {"field": "grp", "type": "nominal", "scale": {"domain": ["<7","7-<14","14-<28","28-<56","56-<84","84-"], "paddingInner": 0.35, "paddingOuter": 0.913, "align": 0.274}, "axis": {"title": "Time from onset (days)", "titleX": 72}}, "y": {"field": "lo", "type": "quantitative", "scale": {"type": "log", "base": 2, "domain": [4, 2048], "nice": false}}, "y2": {"field": "hi"}}},
    {"data": {"name": "bars"}, "transform": [{"filter": {"field": "panel", "equal": "B"}}], "mark": {"type": "tick", "color": "#777777", "size": 5, "thickness": 0.8},
     "encoding": {"x": {"field": "grp", "type": "nominal", "scale": {"domain": ["<7","7-<14","14-<28","28-<56","56-<84","84-"], "paddingInner": 0.35, "paddingOuter": 0.913, "align": 0.274}, "axis": {"title": "Time from onset (days)", "titleX": 72}}, "y": {"field": "hi", "type": "quantitative", "scale": {"type": "log", "base": 2, "domain": [4, 2048], "nice": false}}}},
    {"data": {"name": "bars"}, "transform": [{"filter": {"field": "panel", "equal": "B"}}], "mark": {"type": "tick", "color": "#777777", "size": 5, "thickness": 0.8},
     "encoding": {"x": {"field": "grp", "type": "nominal", "scale": {"domain": ["<7","7-<14","14-<28","28-<56","56-<84","84-"], "paddingInner": 0.35, "paddingOuter": 0.913, "align": 0.274}, "axis": {"title": "Time from onset (days)", "titleX": 72}}, "y": {"field": "lo", "type": "quantitative", "scale": {"type": "log", "base": 2, "domain": [4, 2048], "nice": false}}}},
    {"data": {"name": "thr"}, "transform": [{"filter": {"field": "panel", "equal": "B"}}], "mark": {"type": "rule", "color": "#a8a8a8", "strokeDash": [4, 3], "strokeWidth": 0.8},
     "encoding": {"y": {"field": "t", "type": "quantitative", "scale": {"type": "log", "base": 2, "domain": [4, 2048], "nice": false}}}},
    {"data": {"name": "pts"}, "transform": [{"filter": {"field": "panel", "equal": "B"}}, {"window": [{"op": "count", "as": "one"}], "frame": [0, 0], "ignorePeers": true}, {"stack": "one", "groupby": ["grp", "v"], "offset": "center", "as": ["s0", "s1"]}],
     "mark": {"type": "circle", "color": "#111111", "size": 7, "opacity": 1},
     "encoding": {"x": {"field": "grp", "type": "nominal", "scale": {"domain": ["<7","7-<14","14-<28","28-<56","56-<84","84-"], "paddingInner": 0.35, "paddingOuter": 0.913, "align": 0.274}, "axis": {"title": "Time from onset (days)", "titleX": 72}}, "xOffset": {"field": "s0", "type": "quantitative", "scale": {"domain": [9, 15], "range": [-0.12, 14.28], "clamp": true}}, "y": {"field": "v", "type": "quantitative", "scale": {"type": "log", "base": 2, "domain": [4, 2048], "nice": false}}}},
    {"data": {"name": "brk"}, "transform": [{"filter": {"field": "panel", "equal": "B"}}], "mark": {"type": "rule", "color": "#666666", "strokeWidth": 0.8},
     "encoding": {"x": {"field": "grp", "type": "nominal", "scale": {"domain": ["<7","7-<14","14-<28","28-<56","56-<84","84-"], "paddingInner": 0.35, "paddingOuter": 0.913, "align": 0.274}, "axis": {"title": "Time from onset (days)", "titleX": 72}}, "x2": {"field": "grp2"}, "y": {"field": "lvl", "type": "quantitative", "scale": {"type": "log", "base": 2, "domain": [4, 2048], "nice": false}}}},
    {"data": {"name": "brk"}, "transform": [{"filter": {"field": "panel", "equal": "B"}}, {"filter": "!datum.half"}], "mark": {"type": "text", "fontSize": 4.8, "color": "#444444", "baseline": "bottom", "dy": -3},
     "encoding": {"x": {"field": "mid", "type": "nominal", "scale": {"domain": ["<7","7-<14","14-<28","28-<56","56-<84","84-"], "paddingInner": 0.35, "paddingOuter": 0.913, "align": 0.274}, "axis": {"title": "Time from onset (days)", "titleX": 72}}, "y": {"field": "lvl", "type": "quantitative", "scale": {"type": "log", "base": 2, "domain": [4, 2048], "nice": false}}, "text": {"field": "lab"}}},
    {"data": {"name": "brk"}, "transform": [{"filter": {"field": "panel", "equal": "B"}}, {"filter": "datum.half"}], "mark": {"type": "text", "fontSize": 4.8, "color": "#444444", "baseline": "bottom", "dy": -3, "dx": 10.9},
     "encoding": {"x": {"field": "mid", "type": "nominal", "scale": {"domain": ["<7","7-<14","14-<28","28-<56","56-<84","84-"], "paddingInner": 0.35, "paddingOuter": 0.913, "align": 0.274}, "axis": {"title": "Time from onset (days)", "titleX": 72}}, "y": {"field": "lvl", "type": "quantitative", "scale": {"type": "log", "base": 2, "domain": [4, 2048], "nice": false}}, "text": {"field": "lab"}}},
    {"data": {"name": "bars"}, "transform": [{"filter": {"field": "panel", "equal": "B"}}], "mark": {"type": "text", "fontSize": 4.5, "color": "#777777", "baseline": "top", "dy": 10},
     "encoding": {"x": {"field": "grp", "type": "nominal", "scale": {"domain": ["<7","7-<14","14-<28","28-<56","56-<84","84-"], "paddingInner": 0.35, "paddingOuter": 0.913, "align": 0.274}, "axis": {"title": "Time from onset (days)", "titleX": 72}}, "y": {"datum": 4, "type": "quantitative", "scale": {"type": "log", "base": 2, "domain": [4, 2048], "nice": false}}, "text": {"field": "nlab"}}}
   ]},
  {"width": 145, "height": 140, "title": {"text": "C", "dx": -31, "offset": 6},
   "layer": [
    {"data": {"name": "bars"}, "transform": [{"filter": {"field": "panel", "equal": "C"}}], "mark": {"type": "bar", "fill": "#f5dadd", "stroke": "#6a6a6a", "strokeWidth": 0.9},
     "encoding": {"x": {"field": "grp", "type": "nominal", "scale": {"domain": ["<7","7-<14","14-<28","28-<56","56-<84","84-"], "paddingInner": 0.35, "paddingOuter": 0.5, "align": 0.317}, "axis": {"title": "Time from onset (days)"}},
      "y": {"field": "gmt", "type": "quantitative", "scale": {"type": "log", "base": 2, "domain": [2.5, 640], "nice": false}, "axis": {"title": "NAb titer (GMT)", "values": [5, 10, 20, 40, 80, 160, 320, 640], "format": "d"}}, "y2": {"datum": 2.5}}},
    {"data": {"name": "bars"}, "transform": [{"filter": {"field": "panel", "equal": "C"}}], "mark": {"type": "rule", "color": "#777777", "strokeWidth": 0.8},
     "encoding": {"x": {"field": "grp", "type": "nominal", "scale": {"domain": ["<7","7-<14","14-<28","28-<56","56-<84","84-"], "paddingInner": 0.35, "paddingOuter": 0.5, "align": 0.317}, "axis": {"title": "Time from onset (days)"}}, "y": {"field": "lo", "type": "quantitative", "scale": {"type": "log", "base": 2, "domain": [2.5, 640], "nice": false}}, "y2": {"field": "hi"}}},
    {"data": {"name": "bars"}, "transform": [{"filter": {"field": "panel", "equal": "C"}}], "mark": {"type": "tick", "color": "#777777", "size": 5, "thickness": 0.8},
     "encoding": {"x": {"field": "grp", "type": "nominal", "scale": {"domain": ["<7","7-<14","14-<28","28-<56","56-<84","84-"], "paddingInner": 0.35, "paddingOuter": 0.5, "align": 0.317}, "axis": {"title": "Time from onset (days)"}}, "y": {"field": "hi", "type": "quantitative", "scale": {"type": "log", "base": 2, "domain": [2.5, 640], "nice": false}}}},
    {"data": {"name": "bars"}, "transform": [{"filter": {"field": "panel", "equal": "C"}}], "mark": {"type": "tick", "color": "#777777", "size": 5, "thickness": 0.8},
     "encoding": {"x": {"field": "grp", "type": "nominal", "scale": {"domain": ["<7","7-<14","14-<28","28-<56","56-<84","84-"], "paddingInner": 0.35, "paddingOuter": 0.5, "align": 0.317}, "axis": {"title": "Time from onset (days)"}}, "y": {"field": "lo", "type": "quantitative", "scale": {"type": "log", "base": 2, "domain": [2.5, 640], "nice": false}}}},
    {"data": {"name": "thr"}, "transform": [{"filter": {"field": "panel", "equal": "C"}}], "mark": {"type": "rule", "color": "#a8a8a8", "strokeDash": [4, 3], "strokeWidth": 0.8},
     "encoding": {"y": {"field": "t", "type": "quantitative", "scale": {"type": "log", "base": 2, "domain": [2.5, 640], "nice": false}}}},
    {"data": {"name": "pts"}, "transform": [{"filter": {"field": "panel", "equal": "C"}}, {"window": [{"op": "count", "as": "one"}], "frame": [0, 0], "ignorePeers": true}, {"stack": "one", "groupby": ["grp", "v"], "offset": "center", "as": ["s0", "s1"]}],
     "mark": {"type": "circle", "color": "#111111", "size": 7, "opacity": 1},
     "encoding": {"x": {"field": "grp", "type": "nominal", "scale": {"domain": ["<7","7-<14","14-<28","28-<56","56-<84","84-"], "paddingInner": 0.35, "paddingOuter": 0.5, "align": 0.317}, "axis": {"title": "Time from onset (days)"}}, "xOffset": {"field": "s0", "type": "quantitative", "scale": {"domain": [8.5, 14.5], "range": [-0.12, 14.28], "clamp": true}}, "y": {"field": "v", "type": "quantitative", "scale": {"type": "log", "base": 2, "domain": [2.5, 640], "nice": false}}}},
    {"data": {"name": "brk"}, "transform": [{"filter": {"field": "panel", "equal": "C"}}], "mark": {"type": "rule", "color": "#666666", "strokeWidth": 0.8},
     "encoding": {"x": {"field": "grp", "type": "nominal", "scale": {"domain": ["<7","7-<14","14-<28","28-<56","56-<84","84-"], "paddingInner": 0.35, "paddingOuter": 0.5, "align": 0.317}, "axis": {"title": "Time from onset (days)"}}, "x2": {"field": "grp2"}, "y": {"field": "lvl", "type": "quantitative", "scale": {"type": "log", "base": 2, "domain": [2.5, 640], "nice": false}}}},
    {"data": {"name": "brk"}, "transform": [{"filter": {"field": "panel", "equal": "C"}}, {"filter": "!datum.half"}], "mark": {"type": "text", "fontSize": 4.8, "color": "#444444", "baseline": "bottom", "dy": -3},
     "encoding": {"x": {"field": "mid", "type": "nominal", "scale": {"domain": ["<7","7-<14","14-<28","28-<56","56-<84","84-"], "paddingInner": 0.35, "paddingOuter": 0.5, "align": 0.317}, "axis": {"title": "Time from onset (days)"}}, "y": {"field": "lvl", "type": "quantitative", "scale": {"type": "log", "base": 2, "domain": [2.5, 640], "nice": false}}, "text": {"field": "lab"}}},
    {"data": {"name": "brk"}, "transform": [{"filter": {"field": "panel", "equal": "C"}}, {"filter": "datum.half"}], "mark": {"type": "text", "fontSize": 4.8, "color": "#444444", "baseline": "bottom", "dy": -3, "dx": 10.9},
     "encoding": {"x": {"field": "mid", "type": "nominal", "scale": {"domain": ["<7","7-<14","14-<28","28-<56","56-<84","84-"], "paddingInner": 0.35, "paddingOuter": 0.5, "align": 0.317}, "axis": {"title": "Time from onset (days)"}}, "y": {"field": "lvl", "type": "quantitative", "scale": {"type": "log", "base": 2, "domain": [2.5, 640], "nice": false}}, "text": {"field": "lab"}}},
    {"data": {"name": "bars"}, "transform": [{"filter": {"field": "panel", "equal": "C"}}], "mark": {"type": "text", "fontSize": 4.5, "color": "#777777", "baseline": "top", "dy": 10},
     "encoding": {"x": {"field": "grp", "type": "nominal", "scale": {"domain": ["<7","7-<14","14-<28","28-<56","56-<84","84-"], "paddingInner": 0.35, "paddingOuter": 0.5, "align": 0.317}, "axis": {"title": "Time from onset (days)"}}, "y": {"datum": 2.5, "type": "quantitative", "scale": {"type": "log", "base": 2, "domain": [2.5, 640], "nice": false}}, "text": {"field": "nlab"}}}
   ]},
  {"width": 145, "height": 140, "title": {"text": "D", "dx": -21, "offset": 12},
   "layer": [
    {"data": {"name": "bars"}, "transform": [{"filter": {"field": "panel", "equal": "D1"}}], "mark": {"type": "bar", "fill": "#cddcef", "stroke": "#6a6a6a", "strokeWidth": 0.9},
     "encoding": {"x": {"field": "grp", "type": "nominal", "scale": {"domain": ["<7","7-<14","14-<28","28-<56","56-<84","84-"], "paddingInner": 0.35, "paddingOuter": 0.5}, "axis": {"title": "Time from onset (days)"}},
      "y": {"field": "gmt", "type": "quantitative", "scale": {"domain": [0, 15], "nice": false}, "axis": {"title": "Anti-S IgG titer (GMT)", "values": [0, 5, 10, 15]}}}},
    {"data": {"name": "bars"}, "transform": [{"filter": {"field": "panel", "equal": "D1"}}], "mark": {"type": "rule", "color": "#777777", "strokeWidth": 0.8},
     "encoding": {"x": {"field": "grp", "type": "nominal", "scale": {"domain": ["<7","7-<14","14-<28","28-<56","56-<84","84-"], "paddingInner": 0.35, "paddingOuter": 0.5}, "axis": {"title": "Time from onset (days)"}}, "y": {"field": "lo", "type": "quantitative", "scale": {"domain": [0, 15], "nice": false}}, "y2": {"field": "hi"}}},
    {"data": {"name": "bars"}, "transform": [{"filter": {"field": "panel", "equal": "D1"}}], "mark": {"type": "tick", "color": "#777777", "size": 5, "thickness": 0.8},
     "encoding": {"x": {"field": "grp", "type": "nominal", "scale": {"domain": ["<7","7-<14","14-<28","28-<56","56-<84","84-"], "paddingInner": 0.35, "paddingOuter": 0.5}, "axis": {"title": "Time from onset (days)"}}, "y": {"field": "hi", "type": "quantitative", "scale": {"domain": [0, 15], "nice": false}}}},
    {"data": {"name": "bars"}, "transform": [{"filter": {"field": "panel", "equal": "D1"}}], "mark": {"type": "tick", "color": "#777777", "size": 5, "thickness": 0.8},
     "encoding": {"x": {"field": "grp", "type": "nominal", "scale": {"domain": ["<7","7-<14","14-<28","28-<56","56-<84","84-"], "paddingInner": 0.35, "paddingOuter": 0.5}, "axis": {"title": "Time from onset (days)"}}, "y": {"field": "lo", "type": "quantitative", "scale": {"domain": [0, 15], "nice": false}}}},
    {"data": {"name": "thr"}, "transform": [{"filter": {"field": "panel", "equal": "D1"}}], "mark": {"type": "rule", "color": "#a8a8a8", "strokeDash": [4, 3], "strokeWidth": 0.8},
     "encoding": {"y": {"field": "t", "type": "quantitative", "scale": {"domain": [0, 15], "nice": false}}}},
    {"data": {"name": "pts"}, "transform": [{"filter": {"field": "panel", "equal": "D1"}}, {"window": [{"op": "count", "as": "one"}], "frame": [0, 0], "ignorePeers": true}, {"stack": "one", "groupby": ["grp", "v"], "offset": "center", "as": ["s0", "s1"]}],
     "mark": {"type": "circle", "color": "#111111", "size": 7, "opacity": 1},
     "encoding": {"x": {"field": "grp", "type": "nominal", "scale": {"domain": ["<7","7-<14","14-<28","28-<56","56-<84","84-"], "paddingInner": 0.35, "paddingOuter": 0.5}, "axis": {"title": "Time from onset (days)"}}, "xOffset": {"field": "s0", "type": "quantitative", "scale": {"domain": [-1.5, 4.5], "range": [-0.12, 14.28], "clamp": true}}, "y": {"field": "v", "type": "quantitative", "scale": {"domain": [0, 15], "nice": false}}}},
    {"data": {"name": "brk"}, "transform": [{"filter": {"field": "panel", "equal": "D1"}}], "mark": {"type": "rule", "color": "#666666", "strokeWidth": 0.8},
     "encoding": {"x": {"field": "grp", "type": "nominal", "scale": {"domain": ["<7","7-<14","14-<28","28-<56","56-<84","84-"], "paddingInner": 0.35, "paddingOuter": 0.5}, "axis": {"title": "Time from onset (days)"}}, "x2": {"field": "grp2"}, "y": {"field": "lvl", "type": "quantitative", "scale": {"domain": [0, 15], "nice": false}}}},
    {"data": {"name": "brk"}, "transform": [{"filter": {"field": "panel", "equal": "D1"}}, {"filter": "!datum.half"}], "mark": {"type": "text", "fontSize": 4.8, "color": "#444444", "baseline": "bottom", "dy": -3},
     "encoding": {"x": {"field": "mid", "type": "nominal", "scale": {"domain": ["<7","7-<14","14-<28","28-<56","56-<84","84-"], "paddingInner": 0.35, "paddingOuter": 0.5}, "axis": {"title": "Time from onset (days)"}}, "y": {"field": "lvl", "type": "quantitative", "scale": {"domain": [0, 15], "nice": false}}, "text": {"field": "lab"}}},
    {"data": {"name": "brk"}, "transform": [{"filter": {"field": "panel", "equal": "D1"}}, {"filter": "datum.half"}], "mark": {"type": "text", "fontSize": 4.8, "color": "#444444", "baseline": "bottom", "dy": -3, "dx": 10.9},
     "encoding": {"x": {"field": "mid", "type": "nominal", "scale": {"domain": ["<7","7-<14","14-<28","28-<56","56-<84","84-"], "paddingInner": 0.35, "paddingOuter": 0.5}, "axis": {"title": "Time from onset (days)"}}, "y": {"field": "lvl", "type": "quantitative", "scale": {"domain": [0, 15], "nice": false}}, "text": {"field": "lab"}}},
    {"data": {"name": "bars"}, "transform": [{"filter": {"field": "panel", "equal": "D1"}}], "mark": {"type": "text", "fontSize": 4.5, "color": "#777777", "baseline": "top", "dy": 10},
     "encoding": {"x": {"field": "grp", "type": "nominal", "scale": {"domain": ["<7","7-<14","14-<28","28-<56","56-<84","84-"], "paddingInner": 0.35, "paddingOuter": 0.5}, "axis": {"title": "Time from onset (days)"}}, "y": {"datum": 0, "type": "quantitative", "scale": {"domain": [0, 15], "nice": false}}, "text": {"field": "nlab"}}}
   ]},
  {"width": 158, "height": 140,
   "layer": [
    {"data": {"name": "bars"}, "transform": [{"filter": {"field": "panel", "equal": "D2"}}], "mark": {"type": "bar", "fill": "#d4e8da", "stroke": "#6a6a6a", "strokeWidth": 0.9},
     "encoding": {"x": {"field": "grp", "type": "nominal", "scale": {"domain": ["<7","7-<14","14-<28","28-<56","56-<84","84-"], "paddingInner": 0.35, "paddingOuter": 0.8, "align": 0.313}, "axis": {"title": "Time from onset (days)", "titleX": 72}},
      "y": {"field": "gmt", "type": "quantitative", "scale": {"domain": [0, 15], "nice": false}, "axis": {"title": "Anti-S IgA titer (GMT)", "values": [0, 5, 10, 15]}}}},
    {"data": {"name": "bars"}, "transform": [{"filter": {"field": "panel", "equal": "D2"}}], "mark": {"type": "rule", "color": "#777777", "strokeWidth": 0.8},
     "encoding": {"x": {"field": "grp", "type": "nominal", "scale": {"domain": ["<7","7-<14","14-<28","28-<56","56-<84","84-"], "paddingInner": 0.35, "paddingOuter": 0.8, "align": 0.313}, "axis": {"title": "Time from onset (days)", "titleX": 72}}, "y": {"field": "lo", "type": "quantitative", "scale": {"domain": [0, 15], "nice": false}}, "y2": {"field": "hi"}}},
    {"data": {"name": "bars"}, "transform": [{"filter": {"field": "panel", "equal": "D2"}}], "mark": {"type": "tick", "color": "#777777", "size": 5, "thickness": 0.8},
     "encoding": {"x": {"field": "grp", "type": "nominal", "scale": {"domain": ["<7","7-<14","14-<28","28-<56","56-<84","84-"], "paddingInner": 0.35, "paddingOuter": 0.8, "align": 0.313}, "axis": {"title": "Time from onset (days)", "titleX": 72}}, "y": {"field": "hi", "type": "quantitative", "scale": {"domain": [0, 15], "nice": false}}}},
    {"data": {"name": "bars"}, "transform": [{"filter": {"field": "panel", "equal": "D2"}}], "mark": {"type": "tick", "color": "#777777", "size": 5, "thickness": 0.8},
     "encoding": {"x": {"field": "grp", "type": "nominal", "scale": {"domain": ["<7","7-<14","14-<28","28-<56","56-<84","84-"], "paddingInner": 0.35, "paddingOuter": 0.8, "align": 0.313}, "axis": {"title": "Time from onset (days)", "titleX": 72}}, "y": {"field": "lo", "type": "quantitative", "scale": {"domain": [0, 15], "nice": false}}}},
    {"data": {"name": "thr"}, "transform": [{"filter": {"field": "panel", "equal": "D2"}}], "mark": {"type": "rule", "color": "#a8a8a8", "strokeDash": [4, 3], "strokeWidth": 0.8},
     "encoding": {"y": {"field": "t", "type": "quantitative", "scale": {"domain": [0, 15], "nice": false}}}},
    {"data": {"name": "pts"}, "transform": [{"filter": {"field": "panel", "equal": "D2"}}, {"window": [{"op": "count", "as": "one"}], "frame": [0, 0], "ignorePeers": true}, {"stack": "one", "groupby": ["grp", "v"], "offset": "center", "as": ["s0", "s1"]}],
     "mark": {"type": "circle", "color": "#111111", "size": 7, "opacity": 1},
     "encoding": {"x": {"field": "grp", "type": "nominal", "scale": {"domain": ["<7","7-<14","14-<28","28-<56","56-<84","84-"], "paddingInner": 0.35, "paddingOuter": 0.8, "align": 0.313}, "axis": {"title": "Time from onset (days)", "titleX": 72}}, "xOffset": {"field": "s0", "type": "quantitative", "scale": {"domain": [-3, 3], "range": [-0.12, 14.28], "clamp": true}}, "y": {"field": "v", "type": "quantitative", "scale": {"domain": [0, 15], "nice": false}}}},
    {"data": {"name": "bars"}, "transform": [{"filter": {"field": "panel", "equal": "D2"}}], "mark": {"type": "text", "fontSize": 4.5, "color": "#777777", "baseline": "top", "dy": 10},
     "encoding": {"x": {"field": "grp", "type": "nominal", "scale": {"domain": ["<7","7-<14","14-<28","28-<56","56-<84","84-"], "paddingInner": 0.35, "paddingOuter": 0.8, "align": 0.313}, "axis": {"title": "Time from onset (days)", "titleX": 72}}, "y": {"datum": 0, "type": "quantitative", "scale": {"domain": [0, 15], "nice": false}}, "text": {"field": "nlab"}}}
   ]},
  {"width": 163, "height": 140, "title": {"text": "E", "dx": -27, "offset": 7},
   "layer": [
    {"data": {"name": "bars"}, "transform": [{"filter": {"field": "panel", "equal": "E"}}], "mark": {"type": "bar", "fill": "#cddcef", "stroke": "#6a6a6a", "strokeWidth": 0.9},
     "encoding": {"x": {"field": "grp", "type": "nominal", "scale": {"domain": ["<7","7-<14","14-<28","28-<56","56-<84","84-"], "paddingInner": 0.35, "paddingOuter": 0.913, "align": 0.274}, "axis": {"title": "Time from onset (days)", "titleX": 72}},
      "y": {"field": "gmt", "type": "quantitative", "scale": {"type": "log", "base": 2, "domain": [4, 2048], "nice": false}, "axis": {"title": "Anti-SARS-CoV-2 IgG titer (GMT)", "values": [8, 16, 32, 64, 128, 256, 512, 1024, 2048], "format": "d"}}, "y2": {"datum": 4}}},
    {"data": {"name": "bars"}, "transform": [{"filter": {"field": "panel", "equal": "E"}}], "mark": {"type": "rule", "color": "#777777", "strokeWidth": 0.8},
     "encoding": {"x": {"field": "grp", "type": "nominal", "scale": {"domain": ["<7","7-<14","14-<28","28-<56","56-<84","84-"], "paddingInner": 0.35, "paddingOuter": 0.913, "align": 0.274}, "axis": {"title": "Time from onset (days)", "titleX": 72}}, "y": {"field": "lo", "type": "quantitative", "scale": {"type": "log", "base": 2, "domain": [4, 2048], "nice": false}}, "y2": {"field": "hi"}}},
    {"data": {"name": "bars"}, "transform": [{"filter": {"field": "panel", "equal": "E"}}], "mark": {"type": "tick", "color": "#777777", "size": 5, "thickness": 0.8},
     "encoding": {"x": {"field": "grp", "type": "nominal", "scale": {"domain": ["<7","7-<14","14-<28","28-<56","56-<84","84-"], "paddingInner": 0.35, "paddingOuter": 0.913, "align": 0.274}, "axis": {"title": "Time from onset (days)", "titleX": 72}}, "y": {"field": "hi", "type": "quantitative", "scale": {"type": "log", "base": 2, "domain": [4, 2048], "nice": false}}}},
    {"data": {"name": "bars"}, "transform": [{"filter": {"field": "panel", "equal": "E"}}], "mark": {"type": "tick", "color": "#777777", "size": 5, "thickness": 0.8},
     "encoding": {"x": {"field": "grp", "type": "nominal", "scale": {"domain": ["<7","7-<14","14-<28","28-<56","56-<84","84-"], "paddingInner": 0.35, "paddingOuter": 0.913, "align": 0.274}, "axis": {"title": "Time from onset (days)", "titleX": 72}}, "y": {"field": "lo", "type": "quantitative", "scale": {"type": "log", "base": 2, "domain": [4, 2048], "nice": false}}}},
    {"data": {"name": "thr"}, "transform": [{"filter": {"field": "panel", "equal": "E"}}], "mark": {"type": "rule", "color": "#a8a8a8", "strokeDash": [4, 3], "strokeWidth": 0.8},
     "encoding": {"y": {"field": "t", "type": "quantitative", "scale": {"type": "log", "base": 2, "domain": [4, 2048], "nice": false}}}},
    {"data": {"name": "pts"}, "transform": [{"filter": {"field": "panel", "equal": "E"}}, {"window": [{"op": "count", "as": "one"}], "frame": [0, 0], "ignorePeers": true}, {"stack": "one", "groupby": ["grp", "v"], "offset": "center", "as": ["s0", "s1"]}],
     "mark": {"type": "circle", "color": "#111111", "size": 7, "opacity": 1},
     "encoding": {"x": {"field": "grp", "type": "nominal", "scale": {"domain": ["<7","7-<14","14-<28","28-<56","56-<84","84-"], "paddingInner": 0.35, "paddingOuter": 0.913, "align": 0.274}, "axis": {"title": "Time from onset (days)", "titleX": 72}}, "xOffset": {"field": "s0", "type": "quantitative", "scale": {"domain": [4.5, 10.5], "range": [-0.12, 14.28], "clamp": true}}, "y": {"field": "v", "type": "quantitative", "scale": {"type": "log", "base": 2, "domain": [4, 2048], "nice": false}}}},
    {"data": {"name": "brk"}, "transform": [{"filter": {"field": "panel", "equal": "E"}}], "mark": {"type": "rule", "color": "#666666", "strokeWidth": 0.8},
     "encoding": {"x": {"field": "grp", "type": "nominal", "scale": {"domain": ["<7","7-<14","14-<28","28-<56","56-<84","84-"], "paddingInner": 0.35, "paddingOuter": 0.913, "align": 0.274}, "axis": {"title": "Time from onset (days)", "titleX": 72}}, "x2": {"field": "grp2"}, "y": {"field": "lvl", "type": "quantitative", "scale": {"type": "log", "base": 2, "domain": [4, 2048], "nice": false}}}},
    {"data": {"name": "brk"}, "transform": [{"filter": {"field": "panel", "equal": "E"}}, {"filter": "!datum.half"}], "mark": {"type": "text", "fontSize": 4.8, "color": "#444444", "baseline": "bottom", "dy": -3},
     "encoding": {"x": {"field": "mid", "type": "nominal", "scale": {"domain": ["<7","7-<14","14-<28","28-<56","56-<84","84-"], "paddingInner": 0.35, "paddingOuter": 0.913, "align": 0.274}, "axis": {"title": "Time from onset (days)", "titleX": 72}}, "y": {"field": "lvl", "type": "quantitative", "scale": {"type": "log", "base": 2, "domain": [4, 2048], "nice": false}}, "text": {"field": "lab"}}},
    {"data": {"name": "brk"}, "transform": [{"filter": {"field": "panel", "equal": "E"}}, {"filter": "datum.half"}], "mark": {"type": "text", "fontSize": 4.8, "color": "#444444", "baseline": "bottom", "dy": -3, "dx": 10.9},
     "encoding": {"x": {"field": "mid", "type": "nominal", "scale": {"domain": ["<7","7-<14","14-<28","28-<56","56-<84","84-"], "paddingInner": 0.35, "paddingOuter": 0.913, "align": 0.274}, "axis": {"title": "Time from onset (days)", "titleX": 72}}, "y": {"field": "lvl", "type": "quantitative", "scale": {"type": "log", "base": 2, "domain": [4, 2048], "nice": false}}, "text": {"field": "lab"}}},
    {"data": {"name": "bars"}, "transform": [{"filter": {"field": "panel", "equal": "E"}}], "mark": {"type": "text", "fontSize": 4.5, "color": "#777777", "baseline": "top", "dy": 10},
     "encoding": {"x": {"field": "grp", "type": "nominal", "scale": {"domain": ["<7","7-<14","14-<28","28-<56","56-<84","84-"], "paddingInner": 0.35, "paddingOuter": 0.913, "align": 0.274}, "axis": {"title": "Time from onset (days)", "titleX": 72}}, "y": {"datum": 4, "type": "quantitative", "scale": {"type": "log", "base": 2, "domain": [4, 2048], "nice": false}}, "text": {"field": "nlab"}}}
   ]},
  {"width": 145, "height": 140, "title": {"text": "F", "dx": -31, "offset": 12},
   "layer": [
    {"data": {"name": "bars"}, "transform": [{"filter": {"field": "panel", "equal": "F"}}], "mark": {"type": "bar", "fill": "#f5dadd", "stroke": "#6a6a6a", "strokeWidth": 0.9},
     "encoding": {"x": {"field": "grp", "type": "nominal", "scale": {"domain": ["<7","7-<14","14-<28","28-<56","56-<84","84-"], "paddingInner": 0.35, "paddingOuter": 0.5, "align": 0.317}, "axis": {"title": "Time from onset (days)"}},
      "y": {"field": "gmt", "type": "quantitative", "scale": {"type": "log", "base": 2, "domain": [2.5, 640], "nice": false}, "axis": {"title": "NAb titer (GMT)", "values": [5, 10, 20, 40, 80, 160, 320, 640], "format": "d"}}, "y2": {"datum": 2.5}}},
    {"data": {"name": "bars"}, "transform": [{"filter": {"field": "panel", "equal": "F"}}], "mark": {"type": "rule", "color": "#777777", "strokeWidth": 0.8},
     "encoding": {"x": {"field": "grp", "type": "nominal", "scale": {"domain": ["<7","7-<14","14-<28","28-<56","56-<84","84-"], "paddingInner": 0.35, "paddingOuter": 0.5, "align": 0.317}, "axis": {"title": "Time from onset (days)"}}, "y": {"field": "lo", "type": "quantitative", "scale": {"type": "log", "base": 2, "domain": [2.5, 640], "nice": false}}, "y2": {"field": "hi"}}},
    {"data": {"name": "bars"}, "transform": [{"filter": {"field": "panel", "equal": "F"}}], "mark": {"type": "tick", "color": "#777777", "size": 5, "thickness": 0.8},
     "encoding": {"x": {"field": "grp", "type": "nominal", "scale": {"domain": ["<7","7-<14","14-<28","28-<56","56-<84","84-"], "paddingInner": 0.35, "paddingOuter": 0.5, "align": 0.317}, "axis": {"title": "Time from onset (days)"}}, "y": {"field": "hi", "type": "quantitative", "scale": {"type": "log", "base": 2, "domain": [2.5, 640], "nice": false}}}},
    {"data": {"name": "bars"}, "transform": [{"filter": {"field": "panel", "equal": "F"}}], "mark": {"type": "tick", "color": "#777777", "size": 5, "thickness": 0.8},
     "encoding": {"x": {"field": "grp", "type": "nominal", "scale": {"domain": ["<7","7-<14","14-<28","28-<56","56-<84","84-"], "paddingInner": 0.35, "paddingOuter": 0.5, "align": 0.317}, "axis": {"title": "Time from onset (days)"}}, "y": {"field": "lo", "type": "quantitative", "scale": {"type": "log", "base": 2, "domain": [2.5, 640], "nice": false}}}},
    {"data": {"name": "thr"}, "transform": [{"filter": {"field": "panel", "equal": "F"}}], "mark": {"type": "rule", "color": "#a8a8a8", "strokeDash": [4, 3], "strokeWidth": 0.8},
     "encoding": {"y": {"field": "t", "type": "quantitative", "scale": {"type": "log", "base": 2, "domain": [2.5, 640], "nice": false}}}},
    {"data": {"name": "pts"}, "transform": [{"filter": {"field": "panel", "equal": "F"}}, {"window": [{"op": "count", "as": "one"}], "frame": [0, 0], "ignorePeers": true}, {"stack": "one", "groupby": ["grp", "v"], "offset": "center", "as": ["s0", "s1"]}],
     "mark": {"type": "circle", "color": "#111111", "size": 7, "opacity": 1},
     "encoding": {"x": {"field": "grp", "type": "nominal", "scale": {"domain": ["<7","7-<14","14-<28","28-<56","56-<84","84-"], "paddingInner": 0.35, "paddingOuter": 0.5, "align": 0.317}, "axis": {"title": "Time from onset (days)"}}, "xOffset": {"field": "s0", "type": "quantitative", "scale": {"domain": [3, 9], "range": [-0.12, 14.28], "clamp": true}}, "y": {"field": "v", "type": "quantitative", "scale": {"type": "log", "base": 2, "domain": [2.5, 640], "nice": false}}}},
    {"data": {"name": "brk"}, "transform": [{"filter": {"field": "panel", "equal": "F"}}], "mark": {"type": "rule", "color": "#666666", "strokeWidth": 0.8},
     "encoding": {"x": {"field": "grp", "type": "nominal", "scale": {"domain": ["<7","7-<14","14-<28","28-<56","56-<84","84-"], "paddingInner": 0.35, "paddingOuter": 0.5, "align": 0.317}, "axis": {"title": "Time from onset (days)"}}, "x2": {"field": "grp2"}, "y": {"field": "lvl", "type": "quantitative", "scale": {"type": "log", "base": 2, "domain": [2.5, 640], "nice": false}}}},
    {"data": {"name": "brk"}, "transform": [{"filter": {"field": "panel", "equal": "F"}}, {"filter": "!datum.half"}], "mark": {"type": "text", "fontSize": 4.8, "color": "#444444", "baseline": "bottom", "dy": -3},
     "encoding": {"x": {"field": "mid", "type": "nominal", "scale": {"domain": ["<7","7-<14","14-<28","28-<56","56-<84","84-"], "paddingInner": 0.35, "paddingOuter": 0.5, "align": 0.317}, "axis": {"title": "Time from onset (days)"}}, "y": {"field": "lvl", "type": "quantitative", "scale": {"type": "log", "base": 2, "domain": [2.5, 640], "nice": false}}, "text": {"field": "lab"}}},
    {"data": {"name": "brk"}, "transform": [{"filter": {"field": "panel", "equal": "F"}}, {"filter": "datum.half"}], "mark": {"type": "text", "fontSize": 4.8, "color": "#444444", "baseline": "bottom", "dy": -3, "dx": 10.9},
     "encoding": {"x": {"field": "mid", "type": "nominal", "scale": {"domain": ["<7","7-<14","14-<28","28-<56","56-<84","84-"], "paddingInner": 0.35, "paddingOuter": 0.5, "align": 0.317}, "axis": {"title": "Time from onset (days)"}}, "y": {"field": "lvl", "type": "quantitative", "scale": {"type": "log", "base": 2, "domain": [2.5, 640], "nice": false}}, "text": {"field": "lab"}}},
    {"data": {"name": "bars"}, "transform": [{"filter": {"field": "panel", "equal": "F"}}], "mark": {"type": "text", "fontSize": 4.5, "color": "#777777", "baseline": "top", "dy": 10},
     "encoding": {"x": {"field": "grp", "type": "nominal", "scale": {"domain": ["<7","7-<14","14-<28","28-<56","56-<84","84-"], "paddingInner": 0.35, "paddingOuter": 0.5, "align": 0.317}, "axis": {"title": "Time from onset (days)"}}, "y": {"datum": 2.5, "type": "quantitative", "scale": {"type": "log", "base": 2, "domain": [2.5, 640], "nice": false}}, "text": {"field": "nlab"}}}
   ]}
],
"config": {
 "view": {"stroke": null},
 "font": "Liberation Sans",
 "axis": {"grid": false, "domainColor": "#4a4a4a", "tickColor": "#4a4a4a", "domainWidth": 0.8, "tickWidth": 0.8, "tickSize": 2.5, "labelFontSize": 6, "labelColor": "#1a1a1a", "labelPadding": 1, "titleFontSize": 6, "titleFontWeight": "bold", "titleColor": "#1a1a1a"},
 "axisX": {"labelAngle": 0, "titlePadding": 12},
 "axisY": {"titlePadding": 1},
 "title": {"fontSize": 10, "fontWeight": "bold", "anchor": "start", "frame": "group", "color": "#1a1a1a"}
}
}
